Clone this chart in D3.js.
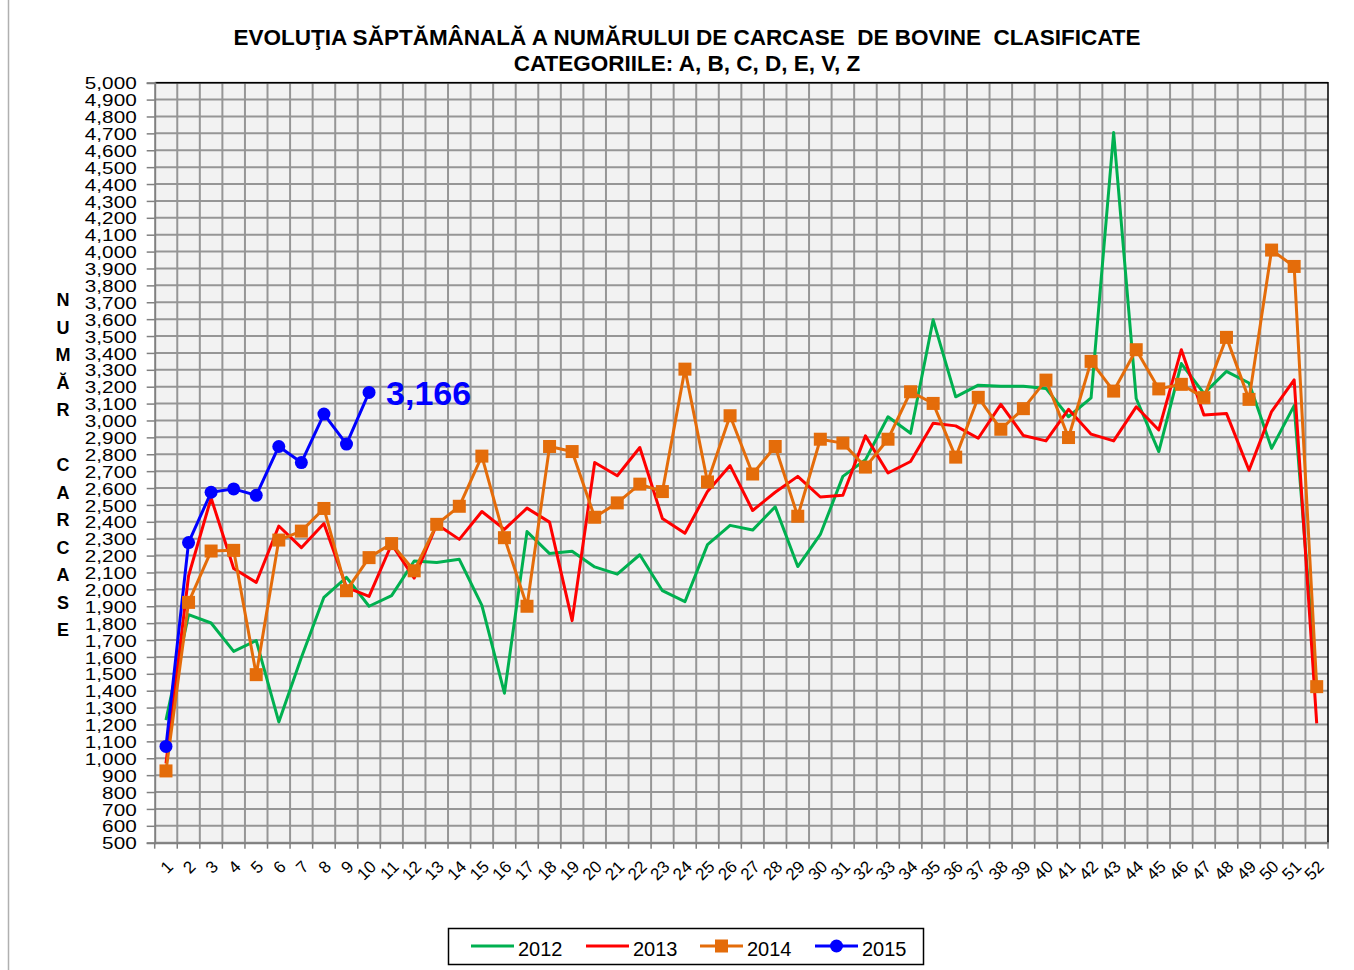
<!DOCTYPE html>
<html>
<head>
<meta charset="utf-8">
<script src="https://cdn.jsdelivr.net/npm/d3@7"></script>
<style>
  html, body { margin: 0; padding: 0; background: #ffffff; }
  svg { display: block; font-family: "Liberation Sans", Arial, sans-serif; }
</style>
</head>
<body>
<svg id="chart" width="1354" height="970"></svg>
<script>
const weeks = d3.range(1, 53);
const yTicks = d3.range(500, 5001, 100);
const seriesNames = ["2012", "2013", "2014", "2015"];
const data2012 = [1226, 1850, 1801, 1633, 1697, 1215, 1597, 1953, 2071, 1900, 1963, 2168, 2159, 2178, 1905, 1385, 2342, 2212, 2226, 2133, 2090, 2205, 1992, 1927, 2265, 2379, 2351, 2489, 2135, 2325, 2669, 2767, 3022, 2924, 3596, 3140, 3209, 3203, 3203, 3190, 3022, 3134, 4705, 3130, 2816, 3337, 3160, 3291, 3222, 2835, 3088, 1400];
const data2013 = [970, 2079, 2541, 2124, 2041, 2375, 2247, 2390, 2012, 1958, 2267, 2067, 2385, 2296, 2461, 2355, 2481, 2398, 1815, 2751, 2673, 2840, 2420, 2332, 2580, 2733, 2467, 2575, 2669, 2547, 2557, 2909, 2689, 2757, 2983, 2968, 2895, 3095, 2911, 2879, 3066, 2919, 2879, 3081, 2944, 3419, 3032, 3042, 2705, 3053, 3240, 1206];
const data2014 = [925, 1923, 2227, 2231, 1495, 2292, 2345, 2479, 1992, 2188, 2271, 2110, 2385, 2492, 2789, 2306, 1900, 2846, 2816, 2427, 2512, 2623, 2579, 3304, 2636, 3028, 2683, 2846, 2433, 2889, 2866, 2724, 2889, 3170, 3101, 2783, 3137, 2948, 3070, 3239, 2899, 3350, 3174, 3419, 3187, 3214, 3135, 3492, 3125, 4009, 3912, 1424];
const data2015 = [1070, 2277, 2575, 2595, 2557, 2846, 2751, 3038, 2860, 3166];
const titleLines = ["EVOLUŢIA SĂPTĂMÂNALĂ A NUMĂRULUI DE CARCASE  DE BOVINE  CLASIFICATE", "CATEGORIILE: A, B, C, D, E, V, Z"];
const yTitle = "NUMĂR CARCASE";

const colors = { "2012": "#00b050", "2013": "#ff0000", "2014": "#e46c0a", "2015": "#0000ff" };
const series = [
  { name: "2012", values: data2012, marker: "none" },
  { name: "2013", values: data2013, marker: "none" },
  { name: "2014", values: data2014, marker: "square" },
  { name: "2015", values: data2015, marker: "circle" }
];

const svg = d3.select("#chart");
const L = 154.7, R = 1328, T = 82.7, B = 842.7;
const x = d3.scaleBand().domain(weeks).range([L, R]).padding(0);
const y = d3.scaleLinear().domain([500, 5000]).range([B, T]);
const cx = w => x(w) + x.bandwidth() / 2;

// outer chart frame (left edge visible)
svg.append("line").attr("x1", 8.5).attr("x2", 8.5).attr("y1", 0).attr("y2", 970)
  .attr("stroke", "#b0b0b0").attr("stroke-width", 1.5);

// plot background
svg.append("rect").attr("x", L).attr("y", T).attr("width", R - L).attr("height", B - T)
  .attr("fill", "#f2f2f2");

// grid
const grid = svg.append("g");
grid.selectAll("line.h").data(yTicks).join("line")
  .attr("x1", L).attr("x2", R).attr("y1", d => y(d)).attr("y2", d => y(d))
  .attr("stroke", "#969696").attr("stroke-width", 2);
grid.selectAll("line.v").data(weeks.slice(1)).join("line")
  .attr("x1", d => x(d)).attr("x2", d => x(d)).attr("y1", T).attr("y2", B)
  .attr("stroke", "#969696").attr("stroke-width", 2);

// plot frame top/right
svg.append("path").attr("d", `M${L},${T}H${R}V${B}`).attr("fill", "none")
  .attr("stroke", "#000").attr("stroke-width", 1.5);

// Y axis
const yAxis = svg.append("g").attr("transform", `translate(${L},0)`)
  .call(d3.axisLeft(y).tickValues(yTicks).tickFormat(d3.format(",")).tickSize(8).tickPadding(0));
yAxis.select(".domain").attr("stroke", "#808080").attr("stroke-width", 2);
yAxis.selectAll(".tick line").attr("stroke", "#808080").attr("stroke-width", 1.5);
yAxis.selectAll(".tick text").remove();
yAxis.selectAll(".tick").append("text")
  .attr("transform", "translate(-18,0) scale(1.22,1)")
  .attr("dy", "0.36em")
  .attr("text-anchor", "end")
  .attr("fill", "#000")
  .style("font-size", "17px")
  .style("font-family", "'Liberation Sans', Arial, sans-serif")
  .text(d => d3.format(",")(d));

// X axis
const xAxis = svg.append("g").attr("transform", `translate(0,${B})`)
  .call(d3.axisBottom(x).tickValues([]).tickSize(0));
xAxis.select(".domain").attr("stroke", "#808080").attr("stroke-width", 2);
xAxis.selectAll("line.xt").data(weeks.concat([53])).join("line")
  .attr("x1", d => d <= 52 ? x(d) : R).attr("x2", d => d <= 52 ? x(d) : R)
  .attr("y1", 0).attr("y2", 6).attr("stroke", "#808080").attr("stroke-width", 1.5);
xAxis.selectAll("text.xl").data(weeks).join("text")
  .attr("transform", d => `translate(${cx(d) + 4},${21}) rotate(-45)`)
  .attr("text-anchor", "end")
  .attr("dy", "0.35em")
  .attr("fill", "#000")
  .style("font-size", "17px")
  .text(d => d);

// lines
const line = d3.line().x((d, i) => cx(weeks[i])).y(d => y(d));
series.forEach(s => {
  svg.append("path").datum(s.values).attr("d", line)
    .attr("fill", "none").attr("stroke", colors[s.name]).attr("stroke-width", 3)
    .attr("stroke-linejoin", "round");
});
// markers
const s14 = series[2];
svg.append("g").selectAll("rect").data(s14.values).join("rect")
  .attr("x", (d, i) => cx(weeks[i]) - 6.5).attr("y", d => y(d) - 6.5)
  .attr("width", 13).attr("height", 13).attr("fill", colors["2014"]);
const s15 = series[3];
svg.append("g").selectAll("circle").data(s15.values).join("circle")
  .attr("cx", (d, i) => cx(weeks[i])).attr("cy", d => y(d)).attr("r", 6.5)
  .attr("fill", colors["2015"]);

// data label for last 2015 point
const lastIdx = data2015.length - 1;
svg.append("text")
  .attr("x", cx(weeks[lastIdx]) + 17).attr("y", y(data2015[lastIdx]) + 13)
  .attr("fill", colors["2015"]).style("font-size", "34px").style("font-weight", "bold")
  .text(d3.format(",")(data2015[lastIdx]));

// title
svg.append("g").selectAll("text").data(titleLines).join("text")
  .attr("x", 687).attr("y", (d, i) => 45 + i * 26)
  .attr("text-anchor", "middle").style("font-size", "22.5px").style("font-weight", "bold")
  .style("white-space", "pre").attr("fill", "#000")
  .text(d => d);

// y title: stacked letters
const letters = Array.from(yTitle);
svg.append("g").selectAll("text").data(letters).join("text")
  .attr("x", 63).attr("y", (d, i) => 306 + i * 27.5)
  .attr("text-anchor", "middle").style("font-size", "18px").style("font-weight", "bold")
  .attr("fill", "#000")
  .text(d => d === " " ? "" : d);

// legend
const lg = svg.append("g");
lg.append("rect").attr("x", 448.5).attr("y", 928.5).attr("width", 475).attr("height", 36)
  .attr("fill", "#fff").attr("stroke", "#000").attr("stroke-width", 1.5);
const legendX = [471, 586, 700, 815];
seriesNames.forEach((n, i) => {
  const x0 = legendX[i];
  lg.append("line").attr("x1", x0).attr("x2", x0 + 43).attr("y1", 946).attr("y2", 946)
    .attr("stroke", colors[n]).attr("stroke-width", 3);
  if (n === "2014") lg.append("rect").attr("x", x0 + 21.5 - 6.5).attr("y", 946 - 6.5)
    .attr("width", 13).attr("height", 13).attr("fill", colors[n]);
  if (n === "2015") lg.append("circle").attr("cx", x0 + 21.5).attr("cy", 946).attr("r", 6.5)
    .attr("fill", colors[n]);
  lg.append("text").attr("x", x0 + 47).attr("y", 956).style("font-size", "20px")
    .attr("fill", "#000").text(n);
});
</script>
</body>
</html>
